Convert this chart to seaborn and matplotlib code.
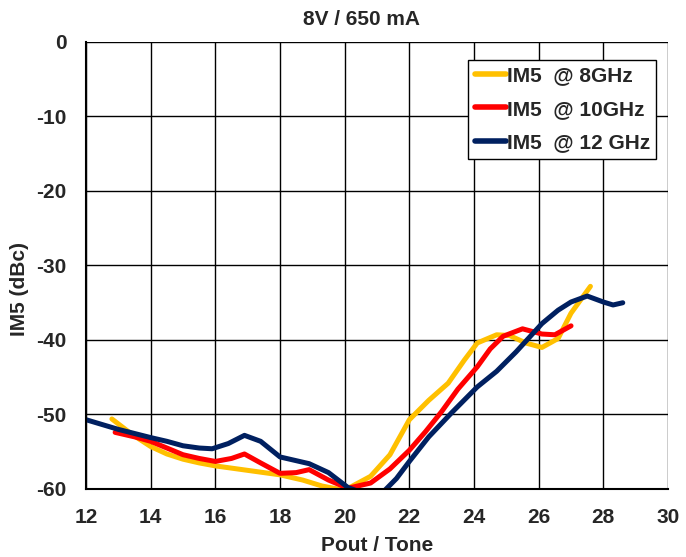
import pandas as pd
import seaborn as sns
import matplotlib.pyplot as plt

# IM5 vs Pout/tone
x_8ghz = [12.8, 13.4, 14.0, 14.5, 15.0, 15.5, 16.0, 17.0, 18.0, 18.7, 19.3, 19.9, 20.2,
          20.8, 21.4, 22.0, 22.6, 23.2, 23.7, 24.1, 24.7, 25.1, 25.6, 26.1, 26.6, 27.0, 27.6]
im5_8ghz = [-50.6, -52.6, -54.3, -55.3, -56.0, -56.5, -56.9, -57.5, -58.1, -58.8, -59.6, -60.1, -59.7,
            -58.3, -55.4, -50.7, -48.1, -45.8, -42.7, -40.4, -39.3, -39.4, -40.4, -41.0, -39.8, -36.4, -32.8]

x_10ghz = [12.9, 13.5, 14.0, 14.5, 15.0, 15.5, 16.0, 16.5, 16.9, 17.4, 18.0, 18.5, 18.9, 19.5,
           20.1, 20.8, 21.4, 22.0, 22.5, 23.0, 23.5, 24.1, 24.5, 24.9, 25.5, 26.1, 26.5, 27.0]
im5_10ghz = [-52.4, -53.0, -53.6, -54.5, -55.4, -55.9, -56.3, -55.9, -55.3, -56.5, -57.9, -57.8, -57.4, -58.8,
             -59.9, -59.2, -57.3, -54.8, -52.3, -49.6, -46.6, -43.6, -41.2, -39.5, -38.5, -39.2, -39.3, -38.1]

x_12ghz = [12.0, 13.0, 14.0, 14.5, 15.0, 15.5, 15.9, 16.4, 16.9, 17.4, 18.0, 18.5, 18.9, 19.5, 20.1, 20.6,
           21.1, 21.6, 22.0, 22.6, 23.3, 24.1, 24.7, 25.3, 25.7, 26.1, 26.6, 27.0, 27.5, 28.0, 28.3, 28.6]
im5_12ghz = [-50.7, -52.0, -53.1, -53.6, -54.2, -54.5, -54.6, -53.9, -52.8, -53.6, -55.7, -56.2, -56.6, -57.8, -59.8, -60.6,
             -60.8, -58.6, -56.3, -53.0, -49.8, -46.3, -44.2, -41.6, -39.7, -37.8, -36.0, -34.9, -34.1, -34.9, -35.3, -35.0]

series_names = ["IM5  @ 8GHz", "IM5  @ 10GHz", "IM5  @ 12 GHz"]
series_colors = ["#FFC000", "#FF0000", "#002060"]

x_ticks = list(range(12, 31, 2))
y_ticks = list(range(-60, 1, 10))

# Build a long table for seaborn
frames = []
for name, xs, ys in zip(series_names, [x_8ghz, x_10ghz, x_12ghz], [im5_8ghz, im5_10ghz, im5_12ghz]):
    frames.append(pd.DataFrame({"pout": xs, "im5": ys, "series": name}))
df = pd.concat(frames, ignore_index=True)

sns.set_style("white")
plt.rcParams['font.family'] = ['Liberation Sans', 'DejaVu Sans']
plt.rcParams['font.weight'] = 'bold'
plt.rcParams['axes.unicode_minus'] = False

FS = 15

fig = plt.figure(figsize=(6.86, 5.57), dpi=100)
ax = fig.add_axes([0.1254, 0.1221, 0.8484, 0.8025])

sns.lineplot(data=df, x="pout", y="im5", hue="series", hue_order=series_names,
             palette=dict(zip(series_names, series_colors)), sort=False,
             linewidth=3.6, ax=ax, legend=True)
for line in ax.get_lines():
    line.set_solid_joinstyle("round")
    line.set_solid_capstyle("round")

ax.set_xlim(12, 30)
ax.set_ylim(-60, 0)
ax.set_xticks(x_ticks)
ax.set_yticks(y_ticks)
ax.grid(True, color="black", linewidth=1.0)
ax.set_axisbelow(True)
for side in ["left", "bottom"]:
    ax.spines[side].set_color("black")
    ax.spines[side].set_linewidth(1.5)
for side in ["top", "right"]:
    ax.spines[side].set_visible(False)
ax.tick_params(labelsize=FS, length=0)
ax.tick_params(axis="y", pad=14)
ax.tick_params(axis="x", pad=14)
for lab in ax.get_xticklabels() + ax.get_yticklabels():
    lab.set_fontweight("bold")

ax.set_title("8V / 650 mA", fontsize=FS, fontweight="bold", pad=12, x=0.474)
ax.set_xlabel("Pout / Tone", fontsize=FS, fontweight="bold", labelpad=6)
ax.set_ylabel("IM5 (dBc)", fontsize=FS, fontweight="bold", labelpad=5, y=0.447)

leg = ax.legend(loc="upper right", bbox_to_anchor=(0.98, 0.96), fontsize=FS,
                frameon=True, fancybox=False, handlelength=1.5, handletextpad=0.05,
                borderpad=0.3, labelspacing=0.7, borderaxespad=0)
leg.get_frame().set_edgecolor("black")
leg.get_frame().set_linewidth(1.0)
leg.get_frame().set_alpha(1.0)
for t in leg.get_texts():
    t.set_fontweight("bold")
for line in leg.get_lines():
    line.set_linewidth(4)

fig.savefig("out.png", dpi=100)
